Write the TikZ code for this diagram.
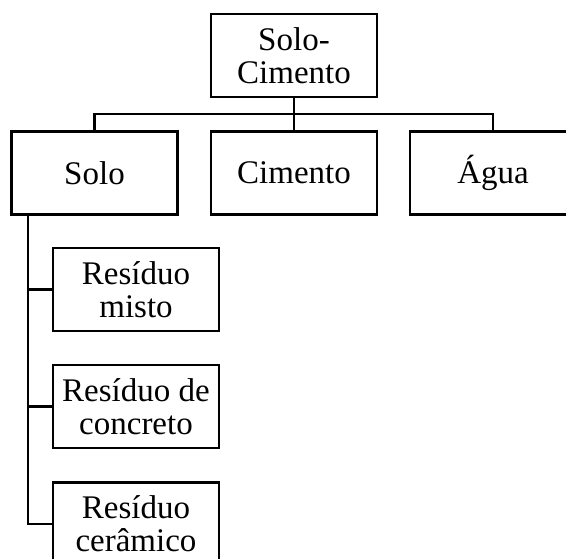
\documentclass[tikz,border=0pt]{standalone}
\usepackage{fontspec}
\setmainfont{Liberation Serif}
\usetikzlibrary{calc}

\begin{document}
\begin{tikzpicture}[x=1pt,y=1pt,line width=2.2pt,
  caixa/.style={draw,align=center,minimum width=166,minimum height=83,inner sep=0pt,
    font=\fontsize{33}{33}\selectfont}]

\useasboundingbox (0,0) rectangle (566,-559);
\begin{scope}[overlay]
\clip (0,0) rectangle (566,-559);

\node[caixa] (solocim) at (294,-55.5) {Solo-\\Cimento};
\node[caixa] (solo) at (94.5,-173) {Solo};
\node[caixa] (cimento) at (294,-173) {Cimento};
\node[caixa] (agua) at (493,-173) {Água};
\node[caixa] (misto) at (136,-289.5) {Resíduo\\misto};
\node[caixa] (concreto) at (136,-406.5) {Resíduo de\\concreto};
\node[caixa] (ceramico) at (136,-524) {Resíduo\\cerâmico};

\coordinate (barra) at (294,-114);
\coordinate (tronco) at (28,-214);

\draw (solocim.south)--(cimento.north);
\draw (solo.north)--(solo.north|-barra)--(agua.north|-barra)--(agua.north);
\draw (tronco) |- (ceramico.west);
\foreach \r in {misto,concreto} \draw (tronco|-\r.west)--(\r.west);
\end{scope}

\end{tikzpicture}
\end{document}
